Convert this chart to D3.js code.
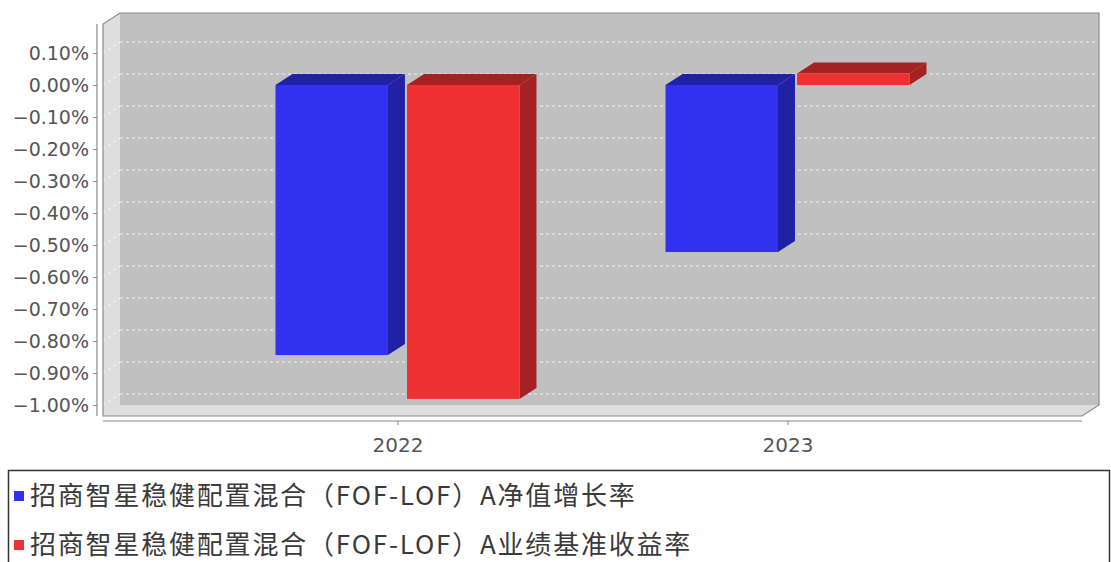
<!DOCTYPE html>
<html>
<head>
  <meta charset="utf8">
  <style>
    * { margin: 0; padding: 0; }
    body { background: #fff; }
  </style>
</head>
<body>
  <script src="https://cdn.jsdelivr.net/npm/d3@7/dist/d3.min.js"></script>
  <script>
    var categories = ['2022', '2023']
    var seriesNames = ['招商智星稳健配置混合（FOF-LOF）A净值增长率', '招商智星稳健配置混合（FOF-LOF）A业绩基准收益率']
    var navGrowth = [-0.844, -0.522]
    var benchmark = [-0.981, 0.036]
    var yTicks = [0.1, 0, -0.1, -0.2, -0.3, -0.4, -0.5, -0.6, -0.7, -0.8, -0.9, -1.0]

    var w = 1111
    var h = 562
    var dx = 17, dy = 11   // 3d depth offset
    var front = { left: 103, right: 1082, top: 24, bottom: 416 }

    var colors = [
      { face: '#3131ef', dark: '#2121a6' },
      { face: '#ef3131', dark: '#a62121' }
    ]

    var series = [navGrowth, benchmark]

    var svg = d3.select('body').append('svg').attr('width', w).attr('height', h)

    var yScale = d3.scaleLinear().domain([-1.0, 0.1]).range([405, 53])
    var xScale = d3.scalePoint().domain(categories).range([front.left, front.right]).padding(0.755)
    var inner = d3.scaleBand().domain(d3.range(series.length)).range([-122, 122]).paddingInner(0.145)

    // back wall
    svg.append('rect')
      .attr('x', front.left + dx).attr('y', front.top - dy)
      .attr('width', front.right - front.left).attr('height', front.bottom - front.top)
      .attr('fill', '#c0c0c0')

    // left wall
    svg.append('path')
      .attr('d', 'M' + front.left + ',' + front.top + 'L' + (front.left + dx) + ',' + (front.top - dy) +
        'L' + (front.left + dx) + ',' + (front.bottom - dy) + 'L' + front.left + ',' + front.bottom + 'Z')
      .attr('fill', '#dedede')

    // floor
    svg.append('path')
      .attr('d', 'M' + front.left + ',' + front.bottom + 'L' + (front.left + dx) + ',' + (front.bottom - dy) +
        'L' + (front.right + dx) + ',' + (front.bottom - dy) + 'L' + front.right + ',' + front.bottom + 'Z')
      .attr('fill', '#dedede')

    // grid lines
    svg.selectAll('line.grid')
      .data(yTicks)
      .enter()
      .append('line')
      .attr('class', 'grid')
      .attr('x1', front.left + dx).attr('x2', front.right + dx)
      .attr('y1', d => yScale(d) - dy).attr('y2', d => yScale(d) - dy)
      .attr('stroke', '#f2f2f2').attr('stroke-width', 1).attr('stroke-dasharray', '3,3')

    svg.selectAll('line.gridside')
      .data(yTicks)
      .enter()
      .append('line')
      .attr('class', 'gridside')
      .attr('x1', front.left).attr('x2', front.left + dx)
      .attr('y1', d => yScale(d)).attr('y2', d => yScale(d) - dy)
      .attr('stroke', '#f6f6f6').attr('stroke-width', 1).attr('stroke-dasharray', '3,3')

    // outline of the 3d box
    svg.append('path')
      .attr('d', 'M' + front.left + ',' + front.bottom + 'L' + front.left + ',' + front.top +
        'L' + (front.left + dx) + ',' + (front.top - dy) + 'L' + (front.right + dx) + ',' + (front.top - dy) +
        'L' + (front.right + dx) + ',' + (front.bottom - dy) + 'L' + front.right + ',' + front.bottom + 'Z')
      .attr('fill', 'none').attr('stroke', '#8a8a8a').attr('stroke-width', 1.2)

    // bars
    var bars = []
    categories.forEach((c, i) => {
      series.forEach((s, j) => {
        bars.push({ cat: c, s: j, value: s[i] })
      })
    })

    var g = svg.append('g')
    bars.forEach(d => {
      var x0 = xScale(d.cat) + inner(d.s)
      var x1 = x0 + inner.bandwidth()
      var yTop = yScale(Math.max(0, d.value))
      var yBot = yScale(Math.min(0, d.value))
      var col = colors[d.s]
      // side
      g.append('path')
        .attr('d', 'M' + x1 + ',' + yTop + 'L' + (x1 + dx) + ',' + (yTop - dy) + 'L' + (x1 + dx) + ',' + (yBot - dy) +
          'L' + x1 + ',' + yBot + 'Z')
        .attr('fill', col.dark)
      // top
      g.append('path')
        .attr('d', 'M' + x0 + ',' + yTop + 'L' + (x0 + dx) + ',' + (yTop - dy) + 'L' + (x1 + dx) + ',' + (yTop - dy) +
          'L' + x1 + ',' + yTop + 'Z')
        .attr('fill', col.dark)
      // front
      g.append('rect')
        .attr('x', x0).attr('y', yTop)
        .attr('width', x1 - x0).attr('height', yBot - yTop)
        .attr('fill', col.face)
    })

    // y axis
    var yAxis = d3.axisLeft(yScale)
      .tickValues(yTicks)
      .tickSize(4)
      .tickPadding(4)
      .tickFormat(d => d3.format('.2f')(d) + '%')

    var ya = svg.append('g').attr('transform', 'translate(97,0)').call(yAxis)
    ya.select('.domain').remove()
    ya.append('line').attr('x1', 0).attr('x2', 0).attr('y1', front.top).attr('y2', front.bottom)
      .attr('stroke', '#888').attr('stroke-width', 1.2)
    ya.selectAll('.tick line').attr('stroke', '#888')
    ya.selectAll('text')
      .attr('font-family', 'DejaVu Sans, sans-serif')
      .attr('font-size', '19px')
      .attr('fill', '#555')

    // x axis
    var xAxis = d3.axisBottom(xScale).tickSize(4).tickPadding(13).tickSizeOuter(0)
    var xa = svg.append('g').attr('transform', 'translate(0,421)').call(xAxis)
    xa.select('.domain').attr('stroke', '#888').attr('stroke-width', 1.2)
      .attr('d', 'M' + front.left + ',0H' + front.right)
    xa.selectAll('.tick line').attr('stroke', '#888')
    xa.selectAll('text')
      .attr('font-family', 'DejaVu Sans, sans-serif')
      .attr('font-size', '20px')
      .attr('fill', '#555')

    // legend
    var lg = svg.append('g')
    lg.append('rect')
      .attr('x', 8.5).attr('y', 470.5).attr('width', 1101).attr('height', 120)
      .attr('fill', '#fff').attr('stroke', '#333').attr('stroke-width', 1.5)

    var items = lg.selectAll('g.item')
      .data(seriesNames)
      .enter()
      .append('g')
      .attr('class', 'item')
      .attr('transform', (d, i) => 'translate(0,' + (496 + i * 49) + ')')

    items.append('rect')
      .attr('x', 14).attr('y', -5).attr('width', 10).attr('height', 10)
      .attr('fill', (d, i) => colors[i].face)

    items.append('text')
      .attr('x', 30).attr('y', 0)
      .attr('dy', '0.36em')
      .attr('font-family', 'Noto Sans CJK SC, sans-serif')
      .attr('font-size', '26px')
      .attr('letter-spacing', '1.8px')
      .attr('fill', '#3a3a3a')
      .text(d => d)
  </script>
</body>
</html>
